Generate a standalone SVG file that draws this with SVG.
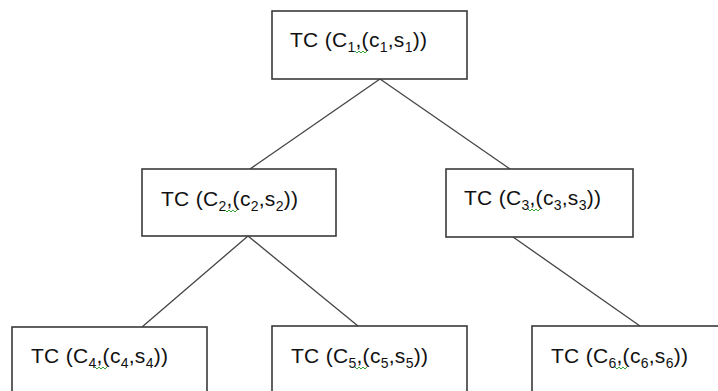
<svg xmlns="http://www.w3.org/2000/svg" width="718" height="391" viewBox="0 0 718 391">
<style>
.box{fill:#fff;stroke:#3a3a3a;stroke-width:1.6}
.lbl{font-family:"Liberation Sans","Open Sans",Arial,sans-serif;font-size:21px;fill:#111}
.sub{font-size:14px}
.edge{stroke:#444;stroke-width:1.3;fill:none}
.sq{stroke:#3aa33a;stroke-width:1;fill:none}
</style>
<rect width="718" height="391" fill="#fff"/>
<g id="connectors">
<line class="edge" x1="380" y1="79" x2="250" y2="169"/>
<line class="edge" x1="380" y1="79" x2="510" y2="169"/>
<line class="edge" x1="248" y1="236" x2="142" y2="327"/>
<line class="edge" x1="248" y1="236" x2="358" y2="326"/>
<line class="edge" x1="513" y1="237" x2="640" y2="326"/>
</g>
<g id="n1">
<rect class="box" x="272" y="11" width="195" height="68"/>
<text class="lbl" x="290" y="47" textLength="137">TC (C<tspan class="sub" dy="5">1</tspan><tspan dy="-5">,(c</tspan><tspan class="sub" dy="5">1</tspan><tspan dy="-5">,s</tspan><tspan class="sub" dy="5">1</tspan><tspan dy="-5">))</tspan></text>
<path class="sq" d="M355 51 l2 2 l2 -2 l2 2 l2 -2 l2 2 l2 -2"/>
</g>
<g id="n2">
<rect class="box" x="142" y="169" width="194" height="67"/>
<text class="lbl" x="161" y="206" textLength="137">TC (C<tspan class="sub" dy="5">2</tspan><tspan dy="-5">,(c</tspan><tspan class="sub" dy="5">2</tspan><tspan dy="-5">,s</tspan><tspan class="sub" dy="5">2</tspan><tspan dy="-5">))</tspan></text>
<path class="sq" d="M225 210 l2 2 l2 -2 l2 2 l2 -2 l2 2 l2 -2"/>
</g>
<g id="n3">
<rect class="box" x="446" y="169" width="187" height="68"/>
<text class="lbl" x="464" y="205" textLength="137">TC (C<tspan class="sub" dy="5">3</tspan><tspan dy="-5">,(c</tspan><tspan class="sub" dy="5">3</tspan><tspan dy="-5">,s</tspan><tspan class="sub" dy="5">3</tspan><tspan dy="-5">))</tspan></text>
<path class="sq" d="M528 209 l2 2 l2 -2 l2 2 l2 -2 l2 2 l2 -2"/>
</g>
<g id="n4">
<rect class="box" x="12" y="327" width="195" height="80"/>
<text class="lbl" x="31" y="363" textLength="137">TC (C<tspan class="sub" dy="5">4</tspan><tspan dy="-5">,(c</tspan><tspan class="sub" dy="5">4</tspan><tspan dy="-5">,s</tspan><tspan class="sub" dy="5">4</tspan><tspan dy="-5">))</tspan></text>
<path class="sq" d="M95 367 l2 2 l2 -2 l2 2 l2 -2 l2 2 l2 -2"/>
</g>
<g id="n5">
<rect class="box" x="272" y="326" width="195" height="80"/>
<text class="lbl" x="291" y="363" textLength="137">TC (C<tspan class="sub" dy="5">5</tspan><tspan dy="-5">,(c</tspan><tspan class="sub" dy="5">5</tspan><tspan dy="-5">,s</tspan><tspan class="sub" dy="5">5</tspan><tspan dy="-5">))</tspan></text>
<path class="sq" d="M355 367 l2 2 l2 -2 l2 2 l2 -2 l2 2 l2 -2"/>
</g>
<g id="n6">
<rect class="box" x="532" y="326" width="200" height="80"/>
<text class="lbl" x="551" y="363" textLength="137">TC (C<tspan class="sub" dy="5">6</tspan><tspan dy="-5">,(c</tspan><tspan class="sub" dy="5">6</tspan><tspan dy="-5">,s</tspan><tspan class="sub" dy="5">6</tspan><tspan dy="-5">))</tspan></text>
<path class="sq" d="M615 367 l2 2 l2 -2 l2 2 l2 -2 l2 2 l2 -2"/>
</g>
</svg>
